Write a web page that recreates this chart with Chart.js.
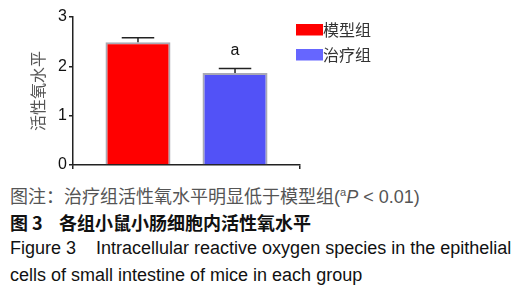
<!DOCTYPE html>
<html>
<head>
<meta charset="utf-8">
<script src="https://cdn.jsdelivr.net/npm/chart.js@4.4.1/dist/chart.umd.min.js"></script>
<style>
  html, body { margin: 0; padding: 0; background: #fff; }
  body { width: 525px; height: 300px; overflow: hidden; position: relative; }
  #wrap { position: absolute; left: 0; top: 0; width: 525px; height: 180px; }
  .cap { position: absolute; left: 10px; white-space: nowrap; line-height: 20px; }
  #c1 { top: 185px; font-family: "Noto Sans CJK SC", sans-serif; font-size: 18px; color: #555; }
  #c1 .en { font-family: "Liberation Sans", Arial, sans-serif; }
  #c2 { top: 212px; font-family: "Noto Sans CJK SC", sans-serif; font-size: 18px; font-weight: bold; color: #111; }
  #c3 { top: 238px; font-family: "Liberation Sans", Arial, sans-serif; font-size: 18px; color: #111; }
  #c4 { top: 265px; font-family: "Liberation Sans", Arial, sans-serif; font-size: 18px; color: #111; }
</style>
</head>
<body>
<div id="wrap"><canvas id="chart" width="525" height="180"></canvas></div>
<div class="cap" id="c1">图注：治疗组活性氧水平明显低于模型组<span class="en">(<sup style="font-size:11px;line-height:0">a</sup><i>P</i> &lt; 0.01)</span></div>
<div class="cap" id="c2">图 3&nbsp;&nbsp;&nbsp;&nbsp;各组小鼠小肠细胞内活性氧水平</div>
<div class="cap" id="c3">Figure 3&nbsp;&nbsp;&nbsp;&nbsp;Intracellular reactive oxygen species in the epithelial</div>
<div class="cap" id="c4">cells of small intestine of mice in each group</div>
<script>
const categories = [""];
const seriesNames = ["模型组", "治疗组"];
const modelValues = [2.49];
const treatValues = [1.865];
const modelErrors = [0.09];
const treatErrors = [0.09];
const annotations = ["", "a"];
const yTicks = [0, 1, 2, 3];
const yTitle = "活性氧水平";

const errorBars = {
  id: 'errorBars',
  afterDatasetsDraw(chart) {
    const ctx = chart.ctx;
    const y = chart.scales.y;
    chart.data.datasets.forEach((ds, di) => {
      const meta = chart.getDatasetMeta(di);
      meta.data.forEach((bar, i) => {
        const v = ds.data[i];
        const e = ds.errors[i];
        const yTop = y.getPixelForValue(v + e);
        const yBase = y.getPixelForValue(v);
        const half = bar.width / 4;
        ctx.save();
        ctx.strokeStyle = '#222';
        ctx.lineWidth = 1.5;
        ctx.beginPath();
        ctx.moveTo(bar.x, yBase);
        ctx.lineTo(bar.x, yTop);
        ctx.moveTo(bar.x - half, yTop);
        ctx.lineTo(bar.x + half, yTop);
        ctx.stroke();
        const lab = ds.note;
        if (lab) {
          ctx.fillStyle = '#111';
          ctx.font = '16px "Liberation Sans", Arial, sans-serif';
          ctx.textAlign = 'center';
          ctx.textBaseline = 'middle';
          ctx.fillText(lab, bar.x, yTop - 18);
        }
        ctx.restore();
      });
    });
    // legend
    const area = chart.chartArea;
    chart.data.datasets.forEach((ds, di) => {
      const lx = area.right - 4;
      const ly = 24 + di * 25;
      ctx.save();
      ctx.fillStyle = ds.legendColor;
      ctx.fillRect(lx, ly, 27, 11.5);
      ctx.fillStyle = '#333';
      ctx.font = '16px "Noto Sans CJK SC", sans-serif';
      ctx.textAlign = 'left';
      ctx.textBaseline = 'middle';
      ctx.fillText(ds.label, lx + 27, ly + 6);
      ctx.restore();
    });
  }
};

new Chart(document.getElementById('chart'), {
  type: 'bar',
  data: {
    labels: categories,
    datasets: [
      { label: seriesNames[0], data: modelValues, errors: modelErrors, note: annotations[0],
        backgroundColor: '#ff0000', legendColor: '#ff0000', borderColor: '#a9a9b4', borderWidth: 2,
        categoryPercentage: 0.855, barPercentage: 0.67 },
      { label: seriesNames[1], data: treatValues, errors: treatErrors, note: annotations[1],
        backgroundColor: '#5252f7', legendColor: '#6666ff', borderColor: '#a9a9b4', borderWidth: 2,
        categoryPercentage: 0.855, barPercentage: 0.67 }
    ]
  },
  options: {
    responsive: false,
    animation: false,
    devicePixelRatio: 1,
    layout: { padding: { top: 17, right: 225, left: 0, bottom: 0 } },
    plugins: { legend: { display: false }, tooltip: { enabled: false } },
    scales: {
      x: {
        grid: { display: true, drawOnChartArea: false, tickLength: 4, color: '#222', lineWidth: 1.5 },
        border: { color: '#222', width: 1.5 },
        ticks: { display: false },
        afterFit: (s) => { s.height = 15; }
      },
      y: {
        min: 0, max: 3,
        afterBuildTicks: (s) => { s.ticks = yTicks.map(v => ({ value: v })); },
        grid: { display: true, drawOnChartArea: false, tickLength: 4, color: '#222', lineWidth: 1.5 },
        border: { color: '#222', width: 1.5 },
        ticks: { color: '#111', padding: 2, font: { size: 16, family: '"Liberation Sans", Arial, sans-serif' } },
        title: { display: true, text: yTitle, color: '#555', padding: { top: 28, bottom: 0 },
                 font: { size: 16, family: '"Noto Sans CJK SC", sans-serif' } },
        afterFit: (s) => { s.width = 73; }
      }
    }
  },
  plugins: [errorBars]
});
</script>
</body>
</html>
